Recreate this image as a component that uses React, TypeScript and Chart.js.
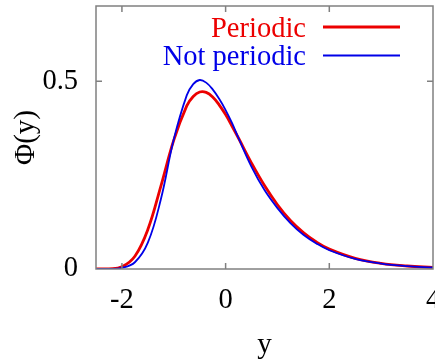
import React, { useEffect, useRef } from "react";
import { Chart, registerables } from "chart.js";

Chart.register(...registerables);

// Sample positions along y and the two probability densities Φ(y)
const yGrid = [
  -2.5, -2.25, -2, -1.75, -1.5, -1.25, -1, -0.75, -0.625, -0.5, -0.375, -0.25,
  -0.125, 0, 0.125, 0.25, 0.5, 0.75, 1, 1.25, 1.5, 1.75, 2, 2.5, 3, 3.5, 4,
];
const periodic = [
  0, 0.0006, 0.006, 0.034, 0.105, 0.22, 0.343, 0.434, 0.459, 0.471, 0.47,
  0.458, 0.437, 0.411, 0.38, 0.348, 0.282, 0.222, 0.171, 0.129, 0.097, 0.072,
  0.053, 0.0285, 0.015, 0.008, 0.004,
];
const notPeriodic = [
  0, 0.0003, 0.003, 0.018, 0.07, 0.185, 0.345, 0.462, 0.492, 0.503, 0.496,
  0.478, 0.453, 0.423, 0.388, 0.348, 0.272, 0.21, 0.162, 0.122, 0.091, 0.068,
  0.05, 0.027, 0.0145, 0.0077, 0.004,
];

const seriesLabels = ["Periodic", "Not periodic"];
const seriesColors = ["rgb(236,0,0)", "rgb(0,0,232)"];
const seriesWidths = [2.8, 1.8];

const xTickValues = [-2, 0, 2, 4];
const yTickValues = [0, 0.5];

const SERIF = "'Liberation Serif', 'Times New Roman', serif";

// Gnuplot-like frame: grey box, inward tick marks on all four sides, and a
// key in the top-right corner with the text to the left of each line sample.
const framePlugin = {
  id: "gnuplotFrame",
  afterDraw(chart: any) {
    const { ctx, chartArea: a, scales } = chart;
    ctx.save();
    ctx.strokeStyle = "#808080";
    ctx.lineWidth = 1.5;
    ctx.strokeRect(a.left, a.top, a.right - a.left, a.bottom - a.top);

    const len = 6;
    ctx.beginPath();
    xTickValues.forEach((v) => {
      const px = scales.x.getPixelForValue(v);
      if (px > a.left + 1 && px < a.right - 1) {
        ctx.moveTo(px, a.bottom);
        ctx.lineTo(px, a.bottom - len);
        ctx.moveTo(px, a.top);
        ctx.lineTo(px, a.top + len);
      }
    });
    yTickValues.forEach((v) => {
      const py = scales.y.getPixelForValue(v);
      if (py > a.top + 1 && py < a.bottom - 1) {
        ctx.moveTo(a.left, py);
        ctx.lineTo(a.left + len, py);
        ctx.moveTo(a.right, py);
        ctx.lineTo(a.right - len, py);
      }
    });
    ctx.stroke();

    // key
    ctx.font = `28.5px ${SERIF}`;
    ctx.textAlign = "right";
    ctx.textBaseline = "alphabetic";
    seriesLabels.forEach((label, i) => {
      const baseY = a.top + 30.5 + i * 28.5;
      const lineY = baseY - 9.5;
      ctx.fillStyle = seriesColors[i];
      ctx.fillText(label, a.right - 127, baseY);
      ctx.strokeStyle = seriesColors[i];
      ctx.lineWidth = seriesWidths[i];
      ctx.beginPath();
      ctx.moveTo(a.right - 110, lineY);
      ctx.lineTo(a.right - 33, lineY);
      ctx.stroke();
    });
    ctx.restore();
  },
};

export default function App() {
  const canvasRef = useRef<HTMLCanvasElement | null>(null);

  useEffect(() => {
    const canvas = canvasRef.current;
    if (!canvas) return;

    const toPoints = (ys: number[]) => yGrid.map((x, i) => ({ x, y: ys[i] }));

    const chart = new Chart(canvas, {
      type: "line",
      data: {
        datasets: [
          {
            label: seriesLabels[0],
            data: toPoints(periodic),
            borderColor: seriesColors[0],
            borderWidth: seriesWidths[0],
            pointRadius: 0,
            tension: 0.4,
            fill: false,
            order: 1,
          },
          {
            label: seriesLabels[1],
            data: toPoints(notPeriodic),
            borderColor: seriesColors[1],
            borderWidth: seriesWidths[1],
            pointRadius: 0,
            tension: 0.4,
            fill: false,
            order: 0,
          },
        ],
      },
      options: {
        animation: false,
        responsive: false,
        devicePixelRatio: 1,
        layout: { padding: { top: 6, right: 2, left: 0, bottom: 0 } },
        plugins: {
          legend: { display: false },
          tooltip: { enabled: false },
        },
        scales: {
          x: {
            type: "linear",
            min: -2.5,
            max: 4,
            grid: { display: false, drawTicks: false },
            border: { display: false },
            afterBuildTicks: (scale: any) => {
              scale.ticks = xTickValues.map((value) => ({ value }));
            },
            afterFit: (scale: any) => {
              scale.height = 90;
              scale.paddingLeft = 0;
              scale.paddingRight = 0;
            },
            ticks: {
              color: "#000",
              font: { family: SERIF, size: 28.5 },
              padding: 14,
              maxRotation: 0,
              autoSkip: false,
              callback: (v: any) => String(v),
            },
            title: {
              display: true,
              text: "y",
              color: "#000",
              font: { family: SERIF, size: 29 },
              padding: { top: 0, bottom: -4 },
            },
          },
          y: {
            type: "linear",
            min: 0,
            max: 0.7,
            grid: { display: false, drawTicks: false },
            border: { display: false },
            afterBuildTicks: (scale: any) => {
              scale.ticks = yTickValues.map((value) => ({ value }));
            },
            afterFit: (scale: any) => {
              scale.width = 96;
              scale.paddingTop = 0;
              scale.paddingBottom = 0;
            },
            ticks: {
              color: "#000",
              font: { family: SERIF, size: 28.5 },
              padding: 18,
              autoSkip: false,
              callback: (v: any) => String(v),
            },
            title: {
              display: true,
              text: "Φ(y)",
              color: "#000",
              font: { family: SERIF, size: 29 },
              padding: { top: 9, bottom: 0 },
            },
          },
        },
      },
      plugins: [framePlugin],
    });

    return () => chart.destroy();
  }, []);

  return (
    <div style={{ position: "fixed", left: 0, top: 0, width: 435, height: 359, background: "#fff" }}>
      <canvas ref={canvasRef} width={435} height={359} style={{ display: "block" }} />
    </div>
  );
}
